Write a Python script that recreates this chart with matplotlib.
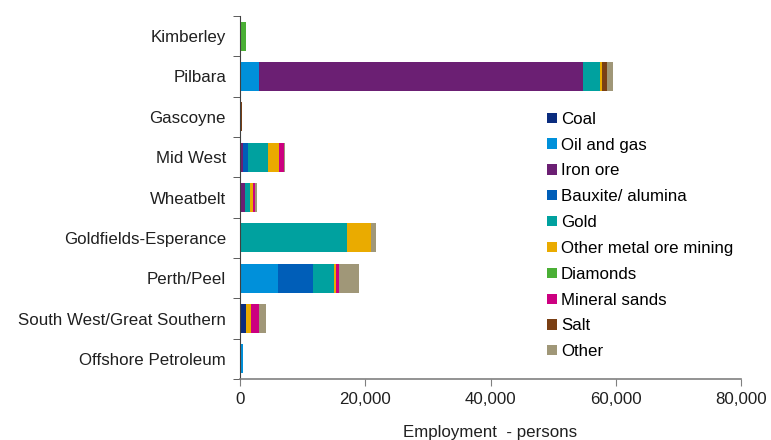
import matplotlib
matplotlib.use("Agg")
import matplotlib.pyplot as plt
import numpy as np

plt.rcParams["font.family"] = ["Liberation Sans", "DejaVu Sans"]

regions = [
    "Kimberley",
    "Pilbara",
    "Gascoyne",
    "Mid West",
    "Wheatbelt",
    "Goldfields-Esperance",
    "Perth/Peel",
    "South West/Great Southern",
    "Offshore Petroleum",
]

commodities = [
    "Coal", "Oil and gas", "Iron ore", "Bauxite/ alumina", "Gold",
    "Other metal ore mining", "Diamonds", "Mineral sands", "Salt", "Other",
]

# employment (persons) per commodity, one value per region (in order above)
coal          = [0,    0,     0,   0,    0,   0,     0,    960,  0]
oil_gas       = [0,    3100,  0,   0,    0,   0,     6000, 0,    450]
iron_ore      = [0,    51600, 0,   400,  850, 160,   0,    0,    0]
bauxite       = [0,    0,     0,   950,  0,   0,     5700, 0,    0]
gold          = [0,    2800,  0,   3050, 800, 16900, 3350, 0,    0]
other_metal   = [0,    370,   0,   1850, 370, 3800,  270,  850,  0]
diamonds      = [980,  0,     0,   0,    0,   0,     0,    0,    0]
mineral_sands = [0,    0,     0,   700,  430, 0,     530,  1280, 0]
salt          = [0,    800,   350, 0,    0,   0,     0,    0,    0]
other         = [0,    900,   0,   270,  270, 800,   3100, 1070, 0]

series = [coal, oil_gas, iron_ore, bauxite, gold, other_metal,
          diamonds, mineral_sands, salt, other]
colors = ["#0B2D7F", "#0090DA", "#6B1F73", "#005EB8", "#00A19F",
          "#EAAB00", "#4AAF35", "#CC0080", "#7A3F14", "#A09778"]

fs = 12.2

fig = plt.figure(figsize=(7.71, 4.40), dpi=100)
ax = fig.add_axes([240 / 771, 1 - 379 / 440, 501 / 771, 363 / 440])

y = np.arange(len(regions))
left = np.zeros(len(regions))
for name, vals, c in zip(commodities, series, colors):
    vals = np.array(vals, dtype=float)
    ax.barh(y, vals, left=left, height=0.72, color=c, label=name, linewidth=0)
    left += vals

ax.set_ylim(len(regions) - 0.5, -0.5)
ax.set_xlim(0, 80000)
ax.set_yticks(y)
ax.set_yticklabels(regions, fontsize=fs, color="#202020")
ax.tick_params(axis="y", length=0, pad=10)
ax.set_yticks(np.arange(-0.5, len(regions)), minor=True)
ax.tick_params(axis="y", which="minor", length=5, color="#404040", direction="out")
ax.set_xticks(np.arange(0, 80001, 20000))
ax.set_xticklabels([f"{v:,}" for v in range(0, 80001, 20000)], fontsize=fs,
                   color="#202020")
ax.tick_params(axis="x", length=5, color="#808080", direction="out", pad=4)
ax.set_xlabel("Employment  - persons", fontsize=fs, labelpad=13, color="#202020")

for s in ["top", "right"]:
    ax.spines[s].set_visible(False)
ax.spines["left"].set_color("#404040")
ax.spines["bottom"].set_color("#808080")
ax.spines["bottom"].set_linewidth(1.2)

ax.legend(loc="upper left", bbox_to_anchor=(0.60, 0.755), frameon=False,
          fontsize=fs, handlelength=0.55, handleheight=0.55,
          handletextpad=0.25, labelspacing=0.64, borderaxespad=0)

fig.savefig("out.png", dpi=100)
